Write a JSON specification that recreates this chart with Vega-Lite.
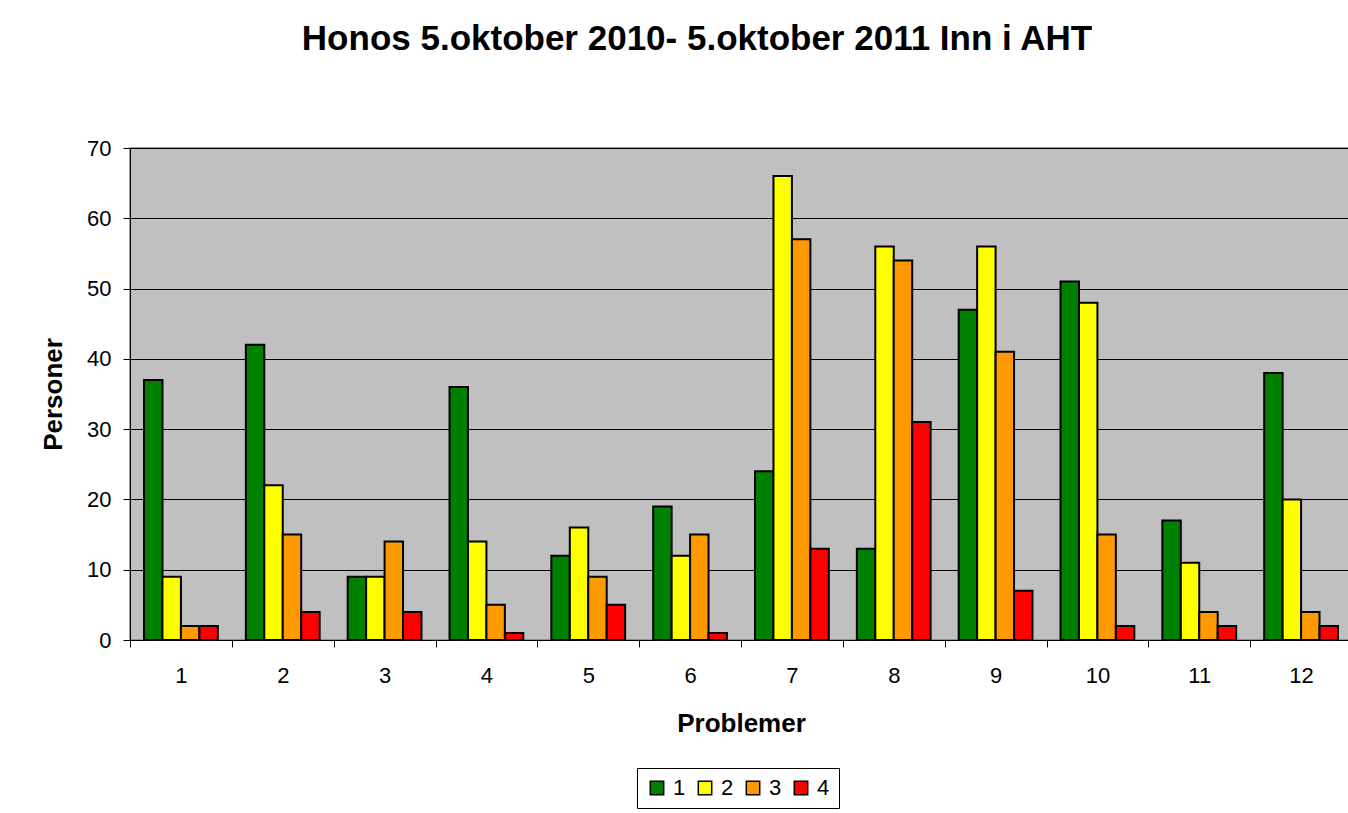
{
  "$schema": "https://vega.github.io/schema/vega-lite/v6.json",
  "width": 1222,
  "height": 492,
  "autosize": {"type": "none"},
  "padding": {"left": 130, "top": 148, "right": 0, "bottom": 173},
  "background": "white",
  "title": {
    "text": "Honos 5.oktober 2010- 5.oktober 2011 Inn i AHT",
    "font": "Liberation Sans",
    "fontSize": 35,
    "fontWeight": "bold",
    "color": "black",
    "anchor": "middle",
    "dx": -44,
    "offset": 80
  },
  "config": {
    "font": "Liberation Sans",
    "view": {"fill": "#C0C0C0", "stroke": "#808080", "strokeWidth": 1.5}
  },
  "data": {
    "values": [
      {"p": "1", "s": "1", "v": 37}, {"p": "1", "s": "2", "v": 9}, {"p": "1", "s": "3", "v": 2}, {"p": "1", "s": "4", "v": 2},
      {"p": "2", "s": "1", "v": 42}, {"p": "2", "s": "2", "v": 22}, {"p": "2", "s": "3", "v": 15}, {"p": "2", "s": "4", "v": 4},
      {"p": "3", "s": "1", "v": 9}, {"p": "3", "s": "2", "v": 9}, {"p": "3", "s": "3", "v": 14}, {"p": "3", "s": "4", "v": 4},
      {"p": "4", "s": "1", "v": 36}, {"p": "4", "s": "2", "v": 14}, {"p": "4", "s": "3", "v": 5}, {"p": "4", "s": "4", "v": 1},
      {"p": "5", "s": "1", "v": 12}, {"p": "5", "s": "2", "v": 16}, {"p": "5", "s": "3", "v": 9}, {"p": "5", "s": "4", "v": 5},
      {"p": "6", "s": "1", "v": 19}, {"p": "6", "s": "2", "v": 12}, {"p": "6", "s": "3", "v": 15}, {"p": "6", "s": "4", "v": 1},
      {"p": "7", "s": "1", "v": 24}, {"p": "7", "s": "2", "v": 66}, {"p": "7", "s": "3", "v": 57}, {"p": "7", "s": "4", "v": 13},
      {"p": "8", "s": "1", "v": 13}, {"p": "8", "s": "2", "v": 56}, {"p": "8", "s": "3", "v": 54}, {"p": "8", "s": "4", "v": 31},
      {"p": "9", "s": "1", "v": 47}, {"p": "9", "s": "2", "v": 56}, {"p": "9", "s": "3", "v": 41}, {"p": "9", "s": "4", "v": 7},
      {"p": "10", "s": "1", "v": 51}, {"p": "10", "s": "2", "v": 48}, {"p": "10", "s": "3", "v": 15}, {"p": "10", "s": "4", "v": 2},
      {"p": "11", "s": "1", "v": 17}, {"p": "11", "s": "2", "v": 11}, {"p": "11", "s": "3", "v": 4}, {"p": "11", "s": "4", "v": 2},
      {"p": "12", "s": "1", "v": 38}, {"p": "12", "s": "2", "v": 20}, {"p": "12", "s": "3", "v": 4}, {"p": "12", "s": "4", "v": 2}
    ]
  },
  "mark": {"type": "bar", "stroke": "black", "strokeWidth": 2},
  "encoding": {
    "x": {
      "field": "p",
      "type": "ordinal",
      "sort": ["1","2","3","4","5","6","7","8","9","10","11","12"],
      "scale": {"paddingInner": 0, "paddingOuter": 0},
      "axis": {
        "title": "Problemer",
        "titleFont": "Liberation Sans",
        "titleFontSize": 26,
        "titleFontWeight": "bold",
        "titleColor": "black",
        "titlePadding": 24,
        "labelAngle": 0,
        "labelFont": "Liberation Sans",
        "labelFontSize": 22,
        "labelColor": "black",
        "labelPadding": 18,
        "tickBand": "extent",
        "tickColor": "black",
        "tickSize": 7,
        "domainColor": "black",
        "domainWidth": 1,
        "grid": false
      }
    },
    "xOffset": {
      "field": "s",
      "type": "nominal",
      "scale": {"paddingInner": 0, "paddingOuter": 0.76}
    },
    "y": {
      "field": "v",
      "type": "quantitative",
      "scale": {"domain": [0, 70], "nice": false},
      "axis": {
        "title": "Personer",
        "titleFont": "Liberation Sans",
        "titleFontSize": 26,
        "titleFontWeight": "bold",
        "titleColor": "black",
        "titlePadding": 20,
        "values": [0, 10, 20, 30, 40, 50, 60, 70],
        "labelFont": "Liberation Sans",
        "labelFontSize": 22,
        "labelColor": "black",
        "labelPadding": 12,
        "tickColor": "black",
        "tickSize": 7,
        "domainColor": "black",
        "grid": true,
        "gridColor": "black",
        "gridWidth": 1,
        "gridOpacity": 1
      }
    },
    "color": {
      "field": "s",
      "type": "nominal",
      "scale": {"domain": ["1","2","3","4"], "range": ["#008000", "#FFFF00", "#FF9900", "#FF0000"]},
      "legend": {
        "title": null,
        "orient": "none",
        "legendX": 507,
        "legendY": 620,
        "direction": "horizontal",
        "symbolType": "square",
        "symbolSize": 180,
        "symbolStrokeColor": "black",
        "symbolStrokeWidth": 1.5,
        "labelFont": "Liberation Sans",
        "labelFontSize": 22,
        "labelColor": "black",
        "labelOffset": 5,
        "columnPadding": 8,
        "strokeColor": "black",
        "fillColor": "white",
        "padding": 9
      }
    }
  }
}
